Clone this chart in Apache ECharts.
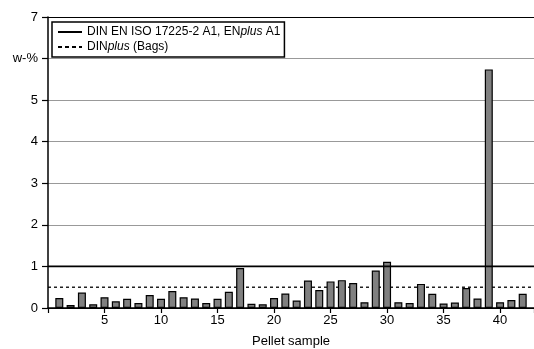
<!DOCTYPE html>
<html>
<head>
<meta charset="utf-8">
<script src="https://cdn.jsdelivr.net/npm/echarts@6/dist/echarts.min.js"></script>
<style>
  html, body { margin: 0; padding: 0; background: #fff; }
  #chart { width: 534px; height: 349px; }
</style>
</head>
<body>
<div id="chart"></div>
<script>
// Fines content (w-%) per pellet sample
const samples = [1,2,3,4,5,6,7,8,9,10,11,12,13,14,15,16,17,18,19,20,21,22,23,24,25,26,27,28,29,30,31,32,33,34,35,36,37,38,39,40,41,42];
const fines = [0.24,0.07,0.37,0.09,0.26,0.16,0.22,0.12,0.31,0.22,0.41,0.26,0.23,0.12,0.22,0.39,0.96,0.10,0.09,0.24,
               0.35,0.18,0.66,0.43,0.64,0.67,0.60,0.14,0.90,1.11,0.14,0.12,0.58,0.34,0.11,0.13,0.48,0.23,5.74,0.14,0.19,0.34];

// Limit values
const limitNames = ['DIN EN ISO 17225-2 A1, ENplus A1', 'DINplus (Bags)'];
const limitValues = [1.0, 0.5];
const xRange = [0, 43];
const xTicks = [5, 10, 15, 20, 25, 30, 35, 40];

const font = 'Liberation Sans, Arial, sans-serif';
const chart = echarts.init(document.getElementById('chart'));

const limitLabels = {
  [limitNames[0]]: 'DIN EN ISO 17225-2 A1, EN{i|plus} A1',
  [limitNames[1]]: 'DIN{i|plus} (Bags)'
};

chart.setOption({
  animation: false,
  textStyle: { fontFamily: font, color: '#000' },
  grid: { left: 48, right: 0, top: 17, bottom: 41, containLabel: false, outerBoundsMode: 'none' },
  legend: {
    left: 52, top: 22,
    orient: 'vertical',
    backgroundColor: '#fff',
    borderColor: '#000', borderWidth: 1.5,
    padding: [3, 4, 3, 6],
    itemGap: 1,
    itemWidth: 24, itemHeight: 2,
    itemStyle: { color: '#000', borderWidth: 0 },
    data: [
      { name: limitNames[0], icon: 'path://M0,0H24V2H0Z' },
      { name: limitNames[1], icon: 'path://M0,0H4V2H0Z M7,0H11V2H7Z M14,0H18V2H14Z M21,0H24V2H21Z' }
    ],
    formatter: n => limitLabels[n],
    textStyle: {
      fontFamily: font, fontSize: 12, color: '#000', lineHeight: 14,
      rich: { i: { fontFamily: font, fontSize: 12, fontStyle: 'italic', color: '#000' } }
    }
  },
  xAxis: {
    type: 'value',
    min: xRange[0], max: xRange[1], interval: 5,
    name: 'Pellet sample', nameLocation: 'middle', nameGap: 27,
    nameTextStyle: { fontFamily: font, fontSize: 13, color: '#000' },
    axisLine: { lineStyle: { color: '#000', width: 1.5 } },
    axisTick: { show: true, length: 5, lineStyle: { color: '#000', width: 1.2 } },
    axisLabel: {
      fontFamily: font, fontSize: 13, color: '#000', margin: 6,
      formatter: v => (xTicks.indexOf(v) >= 0 ? String(v) : '')
    },
    splitLine: { show: false }
  },
  yAxis: {
    type: 'value',
    min: 0, max: 7, interval: 1,
    name: 'Fines', nameLocation: 'middle', nameGap: 30, nameRotate: 90,
    nameTextStyle: { fontFamily: font, fontSize: 13, color: '#000' },
    axisLine: { show: true, lineStyle: { color: '#000', width: 1.5 } },
    axisTick: { show: true, length: 6, lineStyle: { color: '#000', width: 1.2 } },
    axisLabel: {
      fontFamily: font, fontSize: 13, color: '#000', margin: 10,
      formatter: v => (v === 6 ? 'w-%' : String(v))
    },
    splitLine: {
      show: true,
      lineStyle: { color: ['#000', '#999', '#999', '#999', '#999', '#999', '#999', '#000'], width: 1 }
    }
  },
  series: [
    {
      name: 'Fines',
      type: 'bar',
      barWidth: 8,
      itemStyle: { color: '#808080', borderColor: '#000', borderWidth: 1.2 },
      data: samples.map((s, i) => [s, fines[i]]),
      z: 3
    },
    {
      name: limitNames[0],
      type: 'line',
      symbol: 'none',
      lineStyle: { color: '#000', width: 1.8, type: 'solid' },
      itemStyle: { color: '#000' },
      data: xRange.map(x => [x, limitValues[0]]),
      z: 4
    },
    {
      name: limitNames[1],
      type: 'line',
      symbol: 'none',
      lineStyle: { color: '#000', width: 1.3, type: [3, 3] },
      itemStyle: { color: '#000' },
      data: xRange.map(x => [x, limitValues[1]]),
      z: 2
    }
  ]
});
</script>
</body>
</html>
